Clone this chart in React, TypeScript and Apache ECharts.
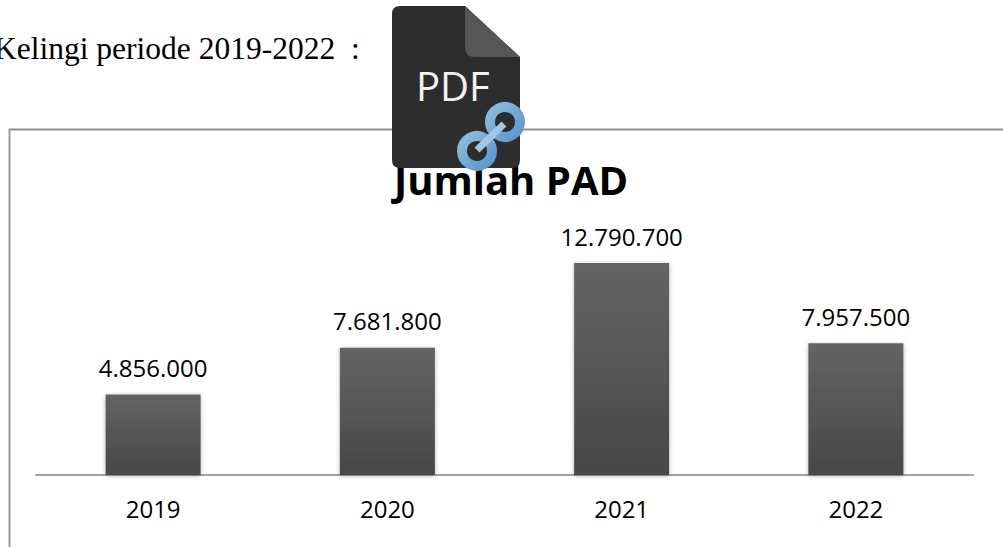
import React, { useEffect, useRef } from "react";
import * as echarts from "echarts";

const categories = ["2019", "2020", "2021", "2022"];
const values = [4856000, 7681800, 12790700, 7957500];
const chartTitle = "Jumlah PAD";
const introText = "Kelingi periode 2019-2022  :";

const fmt = (v: number) => String(v).replace(/\B(?=(\d{3})+$)/g, ".");

echarts.graphic.registerShape(
  "pdfDoc",
  echarts.graphic.extendPath(
    "M400 6 L465 6 L520 57 L520 160 Q520 168 512 168 L400 168 Q392 168 392 160 L392 14 Q392 6 400 6 Z",
    {}
  )
);
echarts.graphic.registerShape(
  "pdfFold",
  echarts.graphic.extendPath("M465 6 L520 57 L475 57 Q465 57 465 47 Z", {})
);

export default function App() {
  const ref = useRef<HTMLDivElement>(null);
  useEffect(() => {
    const chart = echarts.init(ref.current!, null, { renderer: "svg" });
    const ringStroke = new echarts.graphic.LinearGradient(0, 0, 1, 1, [
      { offset: 0, color: "#8fbbdc" },
      { offset: 1, color: "#5a98cc" },
    ]);
    chart.setOption({
      animation: false,
      backgroundColor: "#ffffff",
      title: {
        text: chartTitle,
        left: 506,
        top: 154,
        textAlign: "center",
        textStyle: { fontFamily: "Open Sans", fontSize: 40, fontWeight: 700, color: "#000000" },
      },
      grid: { left: 36, right: 30, top: 243, height: 232 },
      xAxis: {
        type: "category",
        data: categories,
        axisLine: { lineStyle: { color: "#a3a3a3", width: 2 } },
        axisTick: { show: false },
        axisLabel: { color: "#000000", fontFamily: "Open Sans", fontSize: 24, margin: 21 },
      },
      yAxis: { type: "value", min: 0, max: 14000000, show: false, splitLine: { show: false } },
      series: [
        {
          type: "bar",
          data: values,
          barWidth: 95,
          itemStyle: {
            color: new echarts.graphic.LinearGradient(0, 0, 0, 1, [
              { offset: 0, color: "#646464" },
              { offset: 1, color: "#474747" },
            ]),
            shadowColor: "rgba(0,0,0,0.3)",
            shadowBlur: 4,
            shadowOffsetY: 1,
          },
          label: {
            show: true,
            position: "top",
            distance: 15,
            color: "#000000",
            fontFamily: "Open Sans",
            fontSize: 24,
            formatter: (p: any) => fmt(p.value),
          },
        },
      ],
      graphic: [
        {
          type: "text",
          x: -6,
          y: 32,
          z: 50,
          style: { text: introText, fontFamily: "Liberation Serif", fontSize: 31.5, fill: "#000000" },
        },
        {
          type: "polyline",
          z: 50,
          shape: { points: [[1003, 129.5], [9.5, 129.5], [9.5, 547]] },
          style: { stroke: "#8f8f8f", lineWidth: 1.8, fill: "none" },
        },
        { type: "pdfDoc", z: 100, style: { fill: "#2d2d2d" } },
        { type: "pdfFold", z: 101, style: { fill: "#565656" } },
        {
          type: "text",
          x: 416,
          y: 65,
          z: 102,
          style: { text: "PDF", fontFamily: "Open Sans", fontSize: 40, fill: "#f2f2f2" },
        },
        {
          type: "circle",
          z: 103,
          shape: { cx: 505, cy: 122, r: 15 },
          style: { fill: "none", stroke: ringStroke, lineWidth: 10 },
        },
        {
          type: "circle",
          z: 103,
          shape: { cx: 477, cy: 151, r: 15 },
          style: { fill: "none", stroke: ringStroke, lineWidth: 10 },
        },
        {
          type: "line",
          z: 104,
          shape: { x1: 477, y1: 150, x2: 504, y2: 124 },
          style: { stroke: "#a5c6e0", lineWidth: 7 },
        },
      ],
    });
    return () => chart.dispose();
  }, []);
  return (
    <div
      ref={ref}
      style={{ position: "absolute", left: 0, top: 0, width: 1003, height: 547, overflow: "hidden" }}
    />
  );
}
